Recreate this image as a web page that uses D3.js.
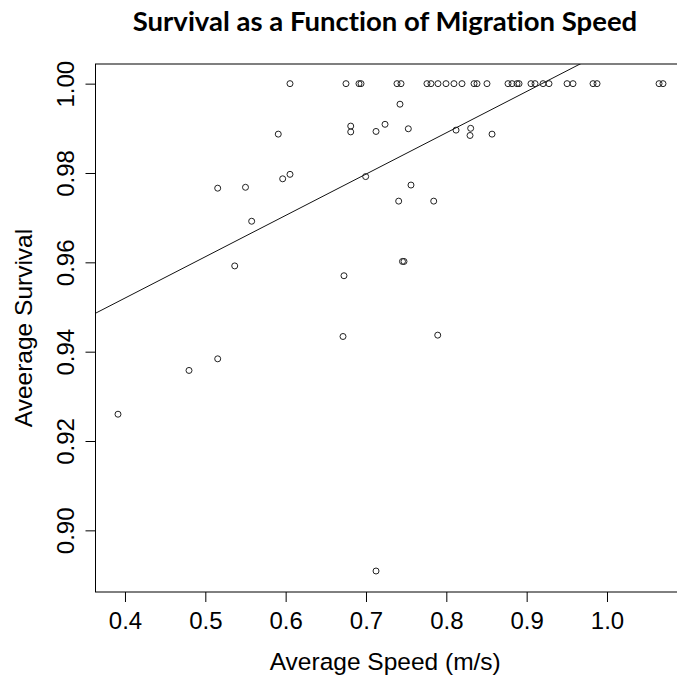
<!DOCTYPE html>
<html>
<head>
<meta charset="utf-8">
<style>
  body { margin: 0; background: #fff; }
  text { font-family: "Liberation Sans", Arial, sans-serif; }
</style>
</head>
<body>
<svg width="677" height="681"></svg>
<script src="https://d3js.org/d3.v7.min.js"></script>
<script>

// speeds (m/s) and survival
var speed = [
  0.6054, 0.6751, 0.6913, 0.6938, 0.7386, 0.7436, 0.7759, 0.7809, 0.7896, 0.7996,
  0.8095, 0.8195, 0.8345, 0.8382, 0.8506, 0.8768, 0.8818, 0.8880, 0.8905, 0.9054,
  0.9104, 0.9204, 0.9278, 0.9503, 0.9577, 0.9826, 0.9876, 1.0648, 1.0697,
  0.5908, 0.5154, 0.5500, 0.5577, 0.5963, 0.6054, 0.5366, 0.5154, 0.4797, 0.3913,
  0.6810, 0.6810, 0.7125, 0.7237, 0.7527, 0.6996, 0.7423, 0.7560, 0.7407, 0.7843,
  0.7454, 0.7473, 0.6726, 0.6714, 0.7893, 0.8121, 0.8303, 0.8295, 0.8569, 0.7125
];
var survival = [
  1, 1, 1, 1, 1, 1, 1, 1, 1, 1,
  1, 1, 1, 1, 1, 1, 1, 1, 1, 1,
  1, 1, 1, 1, 1, 1, 1, 1, 1,
  0.9887, 0.9766, 0.9768, 0.9692, 0.9787, 0.9797, 0.9592, 0.9384, 0.9358, 0.9260,
  0.9905, 0.9892, 0.9893, 0.9909, 0.9899, 0.9792, 0.9954, 0.9773, 0.9737, 0.9737,
  0.9602, 0.9602, 0.9570, 0.9434, 0.9437, 0.9896, 0.9900, 0.9884, 0.9887, 0.8909
];
var xTicks = [0.4, 0.5, 0.6, 0.7, 0.8, 0.9, 1.0];
var yTicks = [0.90, 0.92, 0.94, 0.96, 0.98, 1.00];
// fitted line: survival = intercept + slope * speed
var intercept = 0.915,
    slope = 0.0925;

var svg = d3.select("svg"),
    plotL = 95.5, plotR = 685, plotT = 64, plotB = 592;

var x = d3.scaleLinear().domain([0.3633, 1.0971]).range([plotL, plotR]),
    y = d3.scaleLinear().domain([0.8862, 1.0044]).range([plotB, plotT]);

svg.append("text")
    .attr("x", 385).attr("y", 31)
    .attr("text-anchor", "middle")
    .style("font-family", "Lato, 'Open Sans', sans-serif")
    .style("font-weight", "bold")
    .style("font-size", "27.5px")
    .style("font-variant-ligatures", "none")
    .text("Survival as a Function of Migration Speed");

svg.append("clipPath").attr("id", "plot")
  .append("rect")
    .attr("x", plotL).attr("y", plotT)
    .attr("width", plotR - plotL).attr("height", plotB - plotT);

// regression line
svg.append("line")
    .attr("clip-path", "url(#plot)")
    .attr("x1", x(x.domain()[0])).attr("y1", y(intercept + slope * x.domain()[0]))
    .attr("x2", x(x.domain()[1])).attr("y2", y(intercept + slope * x.domain()[1]))
    .attr("stroke", "#111").attr("stroke-width", 1);

svg.append("g")
  .selectAll("circle")
  .data(speed)
  .enter().append("circle")
    .attr("cx", function(d) { return x(d); })
    .attr("cy", function(d, i) { return y(survival[i]); })
    .attr("r", 3)
    .attr("fill", "none")
    .attr("stroke", "#222")
    .attr("stroke-width", 1);

svg.append("rect")
    .attr("x", plotL).attr("y", plotT)
    .attr("width", plotR - plotL).attr("height", plotB - plotT)
    .attr("fill", "none").attr("stroke", "#000").attr("stroke-width", 1);

var xAxis = svg.append("g")
    .attr("transform", "translate(0," + plotB + ")")
    .call(d3.axisBottom(x).tickValues(xTicks).tickSize(10).tickFormat(d3.format(".1f")));
xAxis.select(".domain").remove();
xAxis.selectAll("line").attr("stroke", "#000");
xAxis.selectAll("text")
    .attr("y", 37).attr("dy", null)
    .style("font-size", "24px")
    .attr("fill", "#000");

var yAxis = svg.append("g")
    .attr("transform", "translate(" + plotL + ",0)")
    .call(d3.axisLeft(y).tickValues(yTicks).tickSize(10).tickFormat(d3.format(".2f")));
yAxis.select(".domain").remove();
yAxis.selectAll("line").attr("stroke", "#000");
yAxis.selectAll("text")
    .attr("x", null).attr("dy", null)
    .attr("text-anchor", "middle")
    .attr("transform", "translate(-22,0) rotate(-90)")
    .style("font-size", "24px")
    .attr("fill", "#000");

svg.append("text")
    .attr("x", (plotL + plotR) / 2 - 5).attr("y", 670)
    .attr("text-anchor", "middle")
    .style("font-size", "24.5px")
    .text("Average Speed (m/s)");

svg.append("text")
    .attr("transform", "translate(32," + (plotT + plotB) / 2 + ") rotate(-90)")
    .attr("text-anchor", "middle")
    .style("font-size", "24.5px")
    .text("Aveerage Survival");

</script>
</body>
</html>
